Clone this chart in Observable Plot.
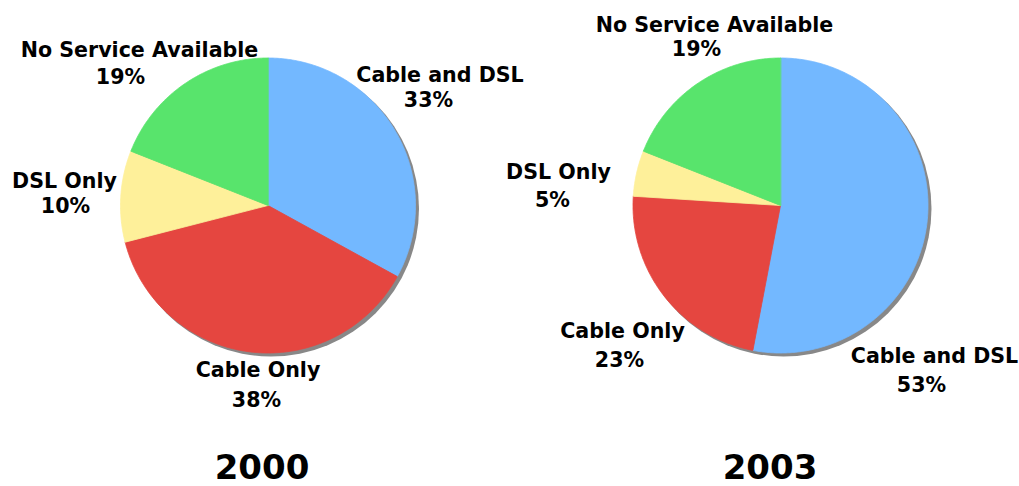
<!DOCTYPE html>
<html>
<head>
<meta charset="utf-8">
<script src="https://cdn.jsdelivr.net/npm/d3@7"></script>
<script src="https://cdn.jsdelivr.net/npm/@observablehq/plot@0.6"></script>
<style>
  html, body { margin: 0; padding: 0; background: #fff; }
  #chart { width: 1019px; height: 486px; }
</style>
</head>
<body>
<div id="chart"></div>
<script>
// ---- data ----
const categories = ["Cable and DSL", "Cable Only", "DSL Only", "No Service Available"];
const years = ["2000", "2003"];
const share2000 = [33, 38, 10, 19];
const share2003 = [53, 23, 5, 19];
const sliceColors = ["#73b8ff", "#e54640", "#fef09a", "#58e46c"];

// ---- layout (pixels) ----
const W = 1019, H = 486;
const pieCenters = [[267.5, 205], [780, 205]];
const R = 147.5;
const shadowOffset = 3;
const titlePos = [[261.5, 467.5], [769.5, 467.5]];
// label positions: [nameX, nameY, pctX, pctY] per pie, per category
const labelPos = [
  [[439.5, 75, 428, 100], [257.5, 370, 256, 400], [64, 181, 65, 206], [139, 50, 120, 77]],
  [[934, 356, 921, 385], [622, 331, 619, 360], [558, 172, 552, 199.5], [714, 24.5, 696, 49]]
];

const series = [share2000, share2003];
const pie = d3.pie().sort(null).value(d => d);

const slicePts = [];
const nameLabels = [];
const pctLabels = [];
const shadows = [];
const titles = [];

series.forEach((vals, p) => {
  const [cx, cy] = pieCenters[p];
  shadows.push({x: cx + shadowOffset, y: cy + shadowOffset});
  titles.push({x: titlePos[p][0], y: titlePos[p][1], text: years[p]});
  pie(vals).forEach((a, i) => {
    const key = years[p] + "-" + categories[i];
    slicePts.push({key, color: sliceColors[i], x: cx, y: cy});
    const n = Math.max(2, Math.ceil((a.endAngle - a.startAngle) / (Math.PI / 360)));
    for (let k = 0; k <= n; k++) {
      const t = a.startAngle + (a.endAngle - a.startAngle) * k / n;
      slicePts.push({key, color: sliceColors[i], x: cx + R * Math.sin(t), y: cy - R * Math.cos(t)});
    }
    const lp = labelPos[p][i];
    nameLabels.push({x: lp[0], y: lp[1], text: categories[i]});
    pctLabels.push({x: lp[2], y: lp[3], text: vals[i] + "%"});
  });
});

const chart = Plot.plot({
  width: W,
  height: H,
  margin: 0,
  x: {domain: [0, W], range: [0, W], axis: null},
  y: {domain: [0, H], range: [0, H], axis: null},
  color: {type: "identity"},
  style: {fontFamily: "'DejaVu Sans', Verdana, sans-serif", background: "#fff"},
  marks: [
    Plot.dot(shadows, {x: "x", y: "y", r: R + 0.5, fill: "#888888", stroke: "none", imageFilter: "blur(0.6px)"}),
    Plot.line(slicePts, {x: "x", y: "y", z: "key", fill: "color", stroke: "color", strokeWidth: 0.8, curve: "linear-closed"}),
    Plot.text(nameLabels, {x: "x", y: "y", text: "text", fontSize: 20.6, fontWeight: "bold", fill: "#000", lineAnchor: "middle"}),
    Plot.text(pctLabels, {x: "x", y: "y", text: "text", fontSize: 20.6, fontWeight: "bold", fill: "#000", lineAnchor: "middle"}),
    Plot.text(titles, {x: "x", y: "y", text: "text", fontSize: 34, fontWeight: "bold", fill: "#000", lineAnchor: "middle"})
  ]
});
document.getElementById("chart").appendChild(chart);
</script>
</body>
</html>
